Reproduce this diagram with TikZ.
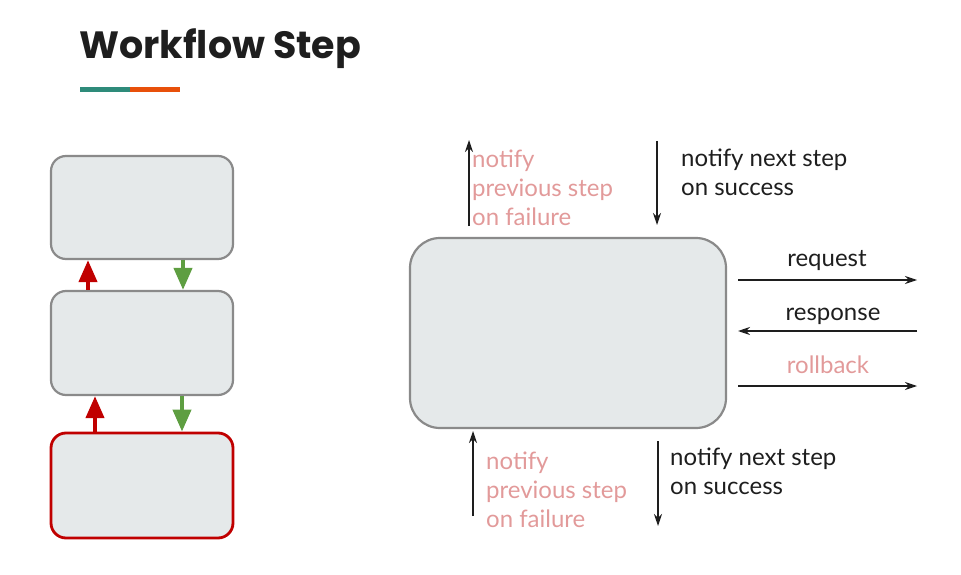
\documentclass[tikz,border=0pt]{standalone}
\usepackage{fontspec}
\setmainfont{Lato}
\newfontfamily\titlefont{Poppins}
\usetikzlibrary{arrows.meta}
\definecolor{boxfill}{HTML}{E5E9EA}
\definecolor{boxline}{HTML}{8A8A8A}
\definecolor{failred}{HTML}{C00000}
\definecolor{okgreen}{HTML}{5E9E41}
\definecolor{pinktext}{HTML}{E29A9A}
\definecolor{teal}{HTML}{2E8B7A}
\definecolor{orangeline}{HTML}{E8500A}
\definecolor{ink}{HTML}{1E1E1E}
\tikzset{
  stepbox/.style={draw=boxline, line width=2.2pt, fill=boxfill, rounded corners=15pt, inner sep=0pt},
  failbox/.style={stepbox, draw=failred, line width=2.8pt},
  bigbox/.style={stepbox, rounded corners=30pt},
  uparr/.style={draw=failred, line width=4pt, -{Triangle[length=22pt,width=18pt]}, fill=failred},
  downarr/.style={draw=okgreen, line width=4pt, -{Triangle[length=22pt,width=18pt]}, fill=okgreen},
  thinarr/.style={draw=ink, line width=1.2pt, -{Stealth[length=12pt,width=8pt]}},
  lbl/.style={font=\fontsize{24}{29}\selectfont, inner sep=0pt, align=left, text=ink},
  pinklbl/.style={lbl, text=pinktext},
}
\begin{document}
\begin{tikzpicture}[x=1pt,y=-1pt]
\useasboundingbox (0,0) rectangle (961,575);
% title
\node[anchor=base west, inner sep=0pt, font=\titlefont\bfseries\fontsize{38}{40}\selectfont, text=ink] (title) at (79,59) {Workflow Step};
\fill[teal] (80,87.5) rectangle (130,92.5);
\fill[orangeline] (130,87.5) rectangle (180,92.5);
% left chain
\node[stepbox, minimum width=182pt, minimum height=103pt] (b1) at (142,207.5) {};
\node[stepbox, minimum width=182pt, minimum height=104pt] (b2) at (142,343) {};
\node[failbox, minimum width=182pt, minimum height=105pt] (b3) at (142,485.5) {};
\draw[uparr] ([xshift=-54pt]b2.north) -- ([xshift=-54pt]b1.south);
\draw[downarr] ([xshift=41pt]b1.south) -- ([xshift=41pt]b2.north);
\draw[uparr] ([xshift=-47pt]b3.north) -- ([xshift=-47pt]b2.south);
\draw[downarr] ([xshift=40pt]b2.south) -- ([xshift=40pt]b3.north);
% big step
\node[bigbox, minimum width=316pt, minimum height=190pt] (big) at (568,333) {};
% top arrows
\coordinate (tfS) at (469,226);
\coordinate (tfE) at (469,140);
\draw[thinarr] (tfS) -- (tfE);
\node[pinklbl, anchor=base west] (tftext) at (472,225) {notify\\previous step\\on failure};
\coordinate (tsS) at (657,141);
\coordinate (tsE) at (657,225);
\draw[thinarr] (tsS) -- (tsE);
\node[lbl, anchor=base west] (tstext) at (681,195) {notify next step\\on success};
% right arrows
\coordinate (rqS) at (738,280);
\coordinate (rqE) at (917,280);
\draw[thinarr] (rqS) -- (rqE);
\node[lbl, anchor=base] (rqtext) at (827,266) {request};
\coordinate (rsS) at (917,331);
\coordinate (rsE) at (738,331);
\draw[thinarr] (rsS) -- (rsE);
\node[lbl, anchor=base] (rstext) at (833,320) {response};
\coordinate (rbS) at (738,386);
\coordinate (rbE) at (917,386);
\draw[thinarr] (rbS) -- (rbE);
\node[pinklbl, anchor=base] (rbtext) at (828,373) {rollback};
% bottom arrows
\coordinate (bfS) at (473,516);
\coordinate (bfE) at (473,431);
\draw[thinarr] (bfS) -- (bfE);
\node[pinklbl, anchor=base west] (bftext) at (486,527) {notify\\previous step\\on failure};
\coordinate (bsS) at (658,441);
\coordinate (bsE) at (658,526);
\draw[thinarr] (bsS) -- (bsE);
\node[lbl, anchor=base west] (bstext) at (670,494) {notify next step\\on success};
\end{tikzpicture}
\end{document}
